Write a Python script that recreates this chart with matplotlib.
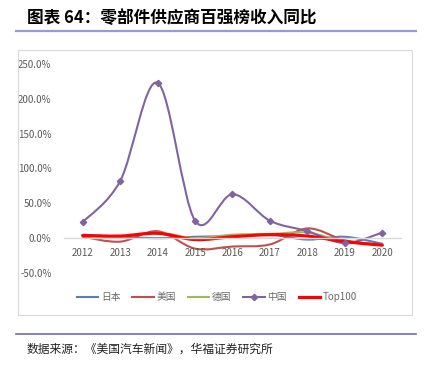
import numpy as np
import matplotlib
matplotlib.use("Agg")
import matplotlib.pyplot as plt
from matplotlib.path import Path
from matplotlib.patches import PathPatch, Rectangle
from matplotlib.lines import Line2D
from matplotlib.ticker import FuncFormatter

plt.rcParams['font.family'] = ['Noto Sans CJK SC', 'DejaVu Sans']

years = ['2012', '2013', '2014', '2015', '2016', '2017', '2018', '2019', '2020']
japan = [3, 2, 0, 2, 3, 5, -2, 2, -8]
usa = [2, -5, 10, -15, -12, -9, 14, -3, -10]
germany = [3, 2, 8, 0, 5, 6, 8, -5, -9]
china = [23, 82, 223, 25, 63, 25, 10, -7, 8]
top100 = [4, 3, 7, -2, 2, 5, 3, -5, -10]

series = [
    ('日本', japan, '#4f81bd', 1.5, None),
    ('美国', usa, '#c0504d', 1.5, None),
    ('德国', germany, '#9bbb59', 1.5, None),
    ('中国', china, '#8064a2', 1.5, 'D'),
    ('Top100', top100, '#ff0000', 2.3, None),
]


def smooth_path(x, y):
    # excel-like smoothed line: cubic bezier through every point
    x = np.asarray(x, float)
    y = np.asarray(y, float)
    pts = np.column_stack([x, y])
    verts = [pts[0]]
    codes = [Path.MOVETO]
    n = len(pts)
    for i in range(n - 1):
        p0 = pts[i - 1] if i > 0 else pts[i]
        p1 = pts[i]
        p2 = pts[i + 1]
        p3 = pts[i + 2] if i + 2 < n else pts[i + 1]
        c1 = p1 + (p2 - p0) / 6.0
        c2 = p2 - (p3 - p1) / 6.0
        verts += [c1, c2, p2]
        codes += [Path.CURVE4] * 3
    return Path(verts, codes)


fig = plt.figure(figsize=(4.24, 3.69), dpi=100)
W, H = 424, 369

# title and rules
fig.text(27 / W, 1 - 18 / H, '图表 64：零部件供应商百强榜收入同比', fontsize=12,
         fontweight='bold', va='center', ha='left', color='#000000')
fig.add_artist(Line2D([16 / W, 416 / W], [1 - 31 / H, 1 - 31 / H], color='#9a9ad0', lw=1.6))
fig.add_artist(Rectangle((18 / W, 1 - 315 / H), (412 - 18) / W, (315 - 50) / H,
                         fill=False, edgecolor='#d9d9d9', lw=0.8))
fig.add_artist(Line2D([16 / W, 416 / W], [1 - 334 / H, 1 - 334 / H], color='#6b6bc8', lw=1.2))
fig.text(27 / W, 1 - 349 / H, '数据来源：《美国汽车新闻》，华福证券研究所', fontsize=8.5,
         va='center', ha='left', color='#222222')

ax = fig.add_axes([64 / W, 1 - 273 / H, (401 - 64) / W, (273 - 64) / H])
x = np.arange(len(years))

for name, vals, color, lw, marker in series:
    ax.add_patch(PathPatch(smooth_path(x, vals), fill=False, edgecolor=color, lw=lw,
                           capstyle='round', joinstyle='round'))
    if marker:
        ax.plot(x, vals, linestyle='none', marker=marker, markersize=3.2, color=color)

ax.set_xlim(-0.5, len(years) - 0.5)
ax.set_ylim(-50, 250)
ax.set_yticks(np.arange(-50, 251, 50))
ax.yaxis.set_major_formatter(FuncFormatter(lambda v, p: f'{v:.1f}%'))
ax.set_xticks(x)
ax.set_xticklabels(years)
for s in ['top', 'right', 'left']:
    ax.spines[s].set_visible(False)
ax.spines['bottom'].set_position(('data', 0))
ax.spines['bottom'].set_color('#d9d9d9')
ax.spines['bottom'].set_linewidth(1.0)
ax.tick_params(axis='both', length=0, labelsize=7, labelcolor='#595959')
ax.tick_params(axis='x', pad=7)
ax.tick_params(axis='y', pad=9)
ax.patch.set_alpha(0)

handles = [Line2D([], [], color=c, lw=lw, marker=m, markersize=3.2)
           for _, _, c, lw, m in series]
labels = [s[0] for s in series]
fig.legend(handles, labels, loc='center', bbox_to_anchor=(217 / W, 1 - 297 / H), ncol=5,
           frameon=False, fontsize=7, handlelength=2.2, columnspacing=1.2,
           handletextpad=0.3, labelcolor='#6a6a6a')

fig.savefig('out.png', dpi=100)
